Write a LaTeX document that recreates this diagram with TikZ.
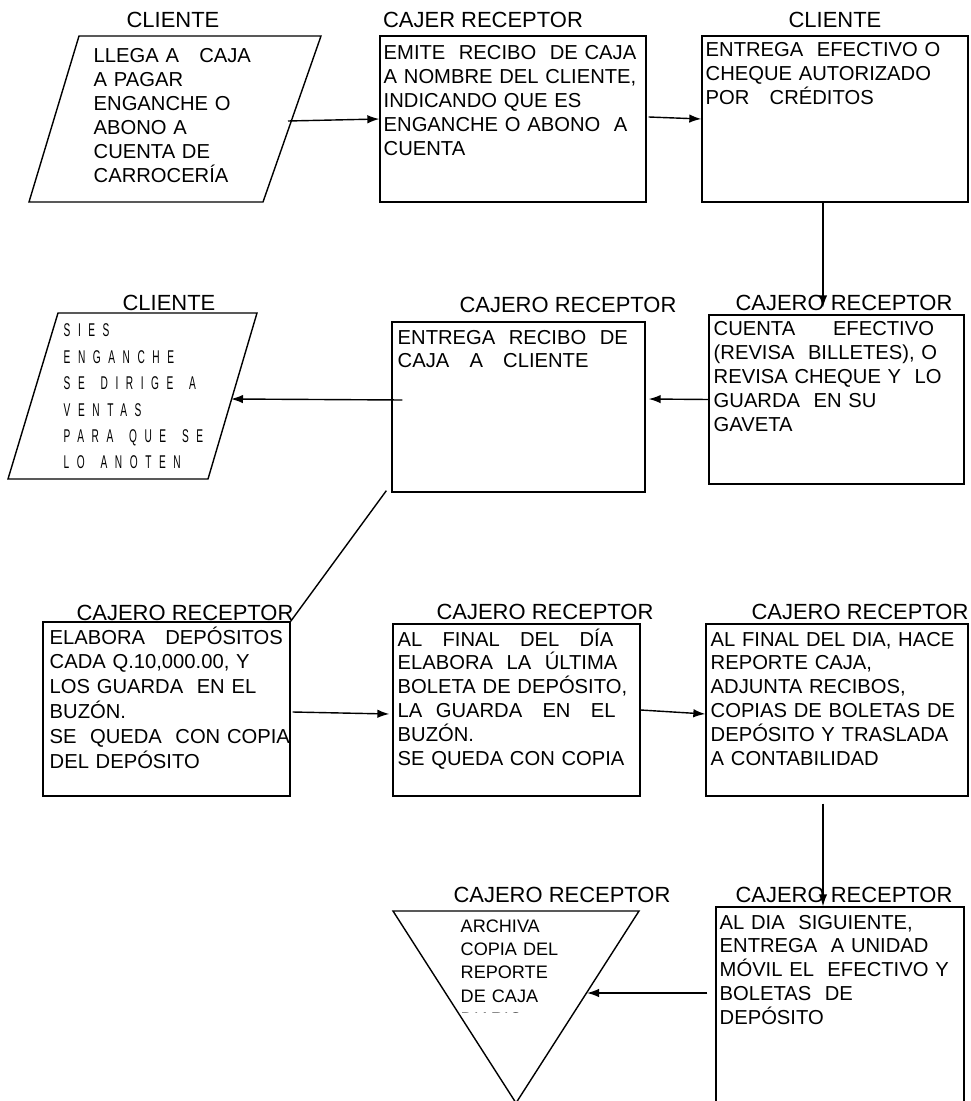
\documentclass[tikz,border=0pt]{standalone}
\usepackage{fontspec}
\setmainfont{Liberation Sans}
\newfontfamily\narrowfont[FakeStretch=0.55,LetterSpace=41]{Liberation Sans}
\newcommand{\wgap}{\hspace*{9pt}}
\usetikzlibrary{shapes, arrows.meta, calc, positioning}

\begin{document}
\begin{tikzpicture}[x=0.02cm, y=-0.02cm, line width=0.8pt,
    flow/.style={-{Latex[length=2.4mm,width=1.7mm]}},
    proc/.style={draw, rectangle, inner sep=0pt},
    who/.style={font=\fontsize{12.5}{15}\selectfont, inner sep=0pt},
    txt/.style={anchor=base west, text width=5.6cm, align=left, inner sep=0pt,
        font=\fontsize{11.5}{13.6}\selectfont}]
    \useasboundingbox (0,0) rectangle (970,1101);

    % fila 1
    \draw (79,36) coordinate (llegaA) -- (321,36) coordinate (llegaB)
        -- (263,202) coordinate (llegaC) -- (29,202) coordinate (llegaD) -- cycle;
    \coordinate (llegaOut) at (288,121);
    \node [proc, minimum width=5.32cm, minimum height=3.32cm] (emite) at (513,119) {};
    \node [proc, minimum width=5.32cm, minimum height=3.32cm] (entrega) at (835,119) {};
    \node [who] (cli1) at (173,20) {CLIENTE};
    \node [who] (caj1) at (483,20) {CAJER RECEPTOR};
    \node [who] (cli2) at (835,20) {CLIENTE};
    \node [txt] (llegaT) at (93,63) {LLEGA A~~ CAJA\\A PAGAR\\ENGANCHE O\\ABONO A\\CUENTA DE\\CARROCERÍA};
    \node [txt] (emiteT) at (383,60) {EMITE~ RECIBO~ DE CAJA\\A NOMBRE DEL CLIENTE,\\INDICANDO QUE ES\\ENGANCHE O ABONO~ A\\CUENTA};
    \node [txt] (entregaT) at (705,57) {ENTREGA~ EFECTIVO O\\CHEQUE AUTORIZADO\\POR~~ CRÉDITOS};

    % fila 2
    \draw (58,313) coordinate (anotarA) -- (257,313) coordinate (anotarB)
        -- (208,479) coordinate (anotarC) -- (8,479) coordinate (anotarD) -- cycle;
    \coordinate (anotarIn) at (231,399);
    \node [proc, minimum width=5.06cm, minimum height=3.40cm] (recibo) at (518.5,407) {};
    \node [proc, minimum width=5.10cm, minimum height=3.38cm] (cuenta) at (836.5,399.5) {};
    \node [who] (cli3) at (169,303) {CLIENTE};
    \node [who] (caj2) at (568,305) {CAJERO RECEPTOR};
    \node [who] (caj3) at (844,303) {CAJERO RECEPTOR};
    \node [txt, font=\narrowfont\fontsize{10.5}{15}\selectfont] (anotarT) at (63,337)
        {SIES\\ENGANCHE\\SE\wgap DIRIGE\wgap A\\VENTAS\\PARA\wgap QUE\wgap SE\\LO\wgap ANOTEN};
    \node [txt] (reciboT) at (397,344) {ENTREGA~ RECIBO~ DE\\CAJA~~ A~~ CLIENTE};
    \node [txt] (cuentaT) at (713,336) {CUENTA\hspace*{0.62cm} EFECTIVO\\(REVISA~ BILLETES), O\\REVISA CHEQUE Y~ LO\\GUARDA~ EN SU\\GAVETA};

    % fila 3
    \node [proc, minimum width=4.94cm, minimum height=3.48cm] (deposito) at (166.5,709) {};
    \node [proc, minimum width=4.94cm, minimum height=3.44cm] (boleta) at (516.5,710) {};
    \node [proc, minimum width=5.24cm, minimum height=3.44cm] (reporte) at (837,710) {};
    \node [who] (caj4) at (185,613) {CAJERO RECEPTOR};
    \node [who] (caj5) at (545,612) {CAJERO RECEPTOR};
    \node [who] (caj6) at (860,612) {CAJERO RECEPTOR};
    \node [txt, font=\fontsize{11.5}{14.2}\selectfont] (depositoT) at (49,644) {ELABORA~~ DEPÓSITOS\\CADA Q.10,000.00, Y\\LOS GUARDA~ EN EL\\BUZÓN.\\SE~ QUEDA~ CON COPIA\\DEL DEPÓSITO};
    \node [txt] (boletaT) at (397,646) {AL~~ FINAL~~ DEL~~ DÍA\\ELABORA~ LA~ ÚLTIMA\\BOLETA DE DEPÓSITO,\\LA~ GUARDA~~ EN~~ EL\\BUZÓN.\\SE QUEDA CON COPIA};
    \node [txt] (reporteT) at (710,646) {AL FINAL DEL DIA, HACE\\REPORTE CAJA,\\ADJUNTA RECIBOS,\\COPIAS DE BOLETAS DE\\DEPÓSITO Y TRASLADA\\A CONTABILIDAD};

    % fila 4
    \draw (393,911) coordinate (archA) -- (639,911) coordinate (archB)
        -- (516,1103) coordinate (archC) -- cycle;
    \coordinate (archIn) at (587,993);
    \node [proc, minimum width=4.96cm, minimum height=4.46cm] (siguiente) at (840,1018.5) {};
    \node [who] (caj7) at (562,895) {CAJERO RECEPTOR};
    \node [who] (caj8) at (844,895) {CAJERO RECEPTOR};
    \begin{scope}
        \clip (440,900) rectangle (620,1012);
        \node [txt, font=\fontsize{10.3}{13.3}\selectfont] (archivaT) at (460,932) {ARCHIVA\\COPIA DEL\\REPORTE\\DE CAJA\\DIARIO};
    \end{scope}
    \node [txt] (siguienteT) at (719,929) {AL DIA~ SIGUIENTE,\\ENTREGA~ A UNIDAD\\MÓVIL EL~ EFECTIVO Y\\BOLETAS~ DE\\DEPÓSITO};

    \draw [flow] (llegaOut) -- (emite.west);
    \draw [flow] ($(emite.east)+(2,-2)$) -- (entrega.west);
    \draw [flow] ($(entrega.south)+(-12,0)$) -- ($(cuenta.north)+(-13.5,-7)$);
    \draw [flow] (cuenta.west) -- ($(recibo.east)+(3,-8)$);
    \draw [flow] ($(recibo.west)+(11,-7)$) -- (anotarIn);
    \draw ($(recibo.south west)+(-5,-2)$) -- (deposito.north east);
    \draw [flow] ($(deposito.east)+(2,3)$) -- ($(boleta.west)+(-3,4)$);
    \draw [flow] (boleta.east) -- ($(reporte.west)+(0,4)$);
    \draw [flow] ($(reporte.south)+(-14,7)$) -- ($(siguiente.north)+(-17,0)$);
    \draw [flow] ($(siguiente.west)+(-8,-25.5)$) -- (archIn);
\end{tikzpicture}
\end{document}
